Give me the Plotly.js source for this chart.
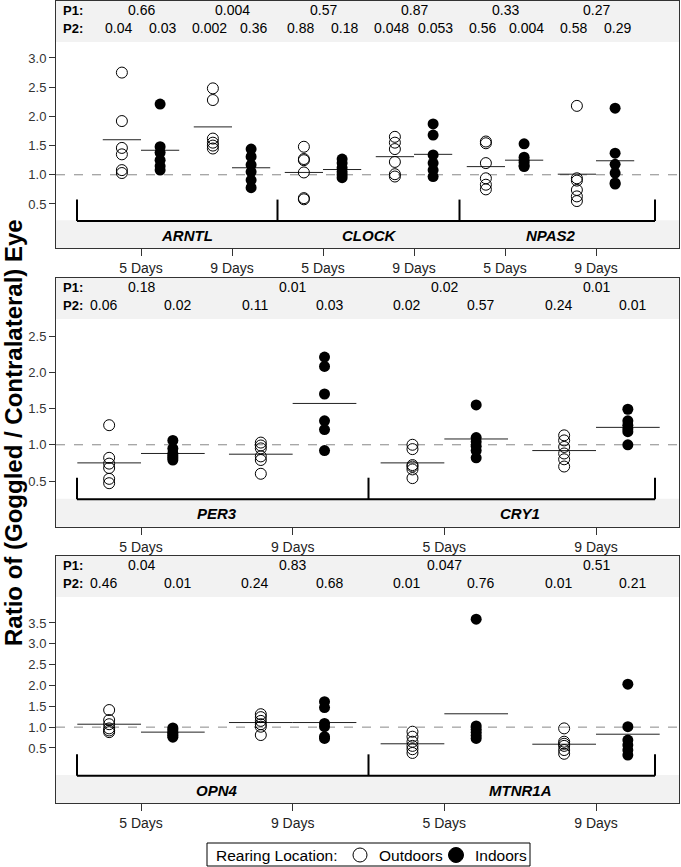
<!DOCTYPE html>
<html>
<head>
<meta charset="utf-8">
<script src="https://cdn.plot.ly/plotly-3.0.1.min.js"></script>
<style>html,body{margin:0;padding:0;background:#fff;}#chart{width:681px;height:867px;}</style>
</head>
<body>
<div id="chart"></div>
<script>
// ---------------- DATA ----------------
const dayLabels = ['5 Days', '9 Days'];
const seriesNames = ['Outdoors', 'Indoors'];
const yTitle = 'Ratio of (Goggled / Contralateral) Eye';
const legendTitle = 'Rearing Location:';

const panel1Genes = ['ARNTL', 'CLOCK', 'NPAS2'];
const panel2Genes = ['PER3', 'CRY1'];
const panel3Genes = ['OPN4', 'MTNR1A'];

const yTicks1 = [0.5, 1.0, 1.5, 2.0, 2.5, 3.0];
const yTicks2 = [0.5, 1.0, 1.5, 2.0, 2.5];
const yTicks3 = [0.5, 1.0, 1.5, 2.0, 2.5, 3.0, 3.5];

// values per gene: [5 days], [9 days]
const ARNTL_out = [[2.75, 1.92, 1.46, 1.35, 1.08, 1.03], [2.48, 2.28, 1.62, 1.55, 1.50, 1.45]];
const ARNTL_in = [[2.21, 1.48, 1.38, 1.25, 1.15, 1.08], [1.44, 1.31, 1.17, 1.05, 0.91, 0.78]];
const ARNTL_outMean = [1.60, 1.82];
const ARNTL_inMean = [1.42, 1.12];
const ARNTL_P1 = ['0.66', '0.004'];
const ARNTL_P2 = ['0.04', '0.03', '0.002', '0.36'];

const CLOCK_out = [[1.48, 1.27, 1.25, 1.04, 0.60, 0.58], [1.65, 1.55, 1.44, 1.22, 1.01, 0.97]];
const CLOCK_in = [[1.27, 1.20, 1.12, 1.05, 1.00, 0.95], [1.87, 1.68, 1.34, 1.20, 1.08, 0.97]];
const CLOCK_outMean = [1.04, 1.31];
const CLOCK_inMean = [1.09, 1.35];
const CLOCK_P1 = ['0.57', '0.87'];
const CLOCK_P2 = ['0.88', '0.18', '0.048', '0.053'];

const NPAS2_out = [[1.57, 1.54, 1.20, 0.94, 0.83, 0.75], [2.18, 0.94, 0.90, 0.74, 0.63, 0.55]];
const NPAS2_in = [[1.53, 1.30, 1.25, 1.21, 1.16, 1.14], [2.14, 1.37, 1.18, 1.03, 0.86, 0.84]];
const NPAS2_outMean = [1.14, 1.01];
const NPAS2_inMean = [1.25, 1.24];
const NPAS2_P1 = ['0.33', '0.27'];
const NPAS2_P2 = ['0.56', '0.004', '0.58', '0.29'];

const PER3_out = [[1.27, 0.82, 0.74, 0.68, 0.53, 0.47], [1.03, 0.99, 0.95, 0.84, 0.79, 0.60]];
const PER3_in = [[1.06, 0.95, 0.88, 0.85, 0.82, 0.79], [2.21, 2.08, 1.70, 1.33, 1.21, 0.92]];
const PER3_outMean = [0.75, 0.87];
const PER3_inMean = [0.88, 1.57];
const PER3_P1 = ['0.18', '0.01'];
const PER3_P2 = ['0.06', '0.02', '0.11', '0.03'];

const CRY1_out = [[1.00, 0.94, 0.72, 0.70, 0.66, 0.54], [1.13, 1.06, 0.97, 0.88, 0.80, 0.70]];
const CRY1_in = [[1.55, 1.10, 1.04, 0.98, 0.92, 0.82], [1.49, 1.33, 1.27, 1.22, 1.18, 1.00]];
const CRY1_outMean = [0.75, 0.92];
const CRY1_inMean = [1.08, 1.24];
const CRY1_P1 = ['0.02', '0.01'];
const CRY1_P2 = ['0.02', '0.57', '0.24', '0.01'];

const OPN4_out = [[1.41, 1.17, 1.07, 0.97, 0.92, 0.88], [1.31, 1.24, 1.15, 1.07, 1.01, 0.81]];
const OPN4_in = [[0.98, 0.94, 0.88, 0.84, 0.80, 0.76], [1.61, 1.47, 1.09, 1.01, 0.77, 0.73]];
const OPN4_outMean = [1.07, 1.11];
const OPN4_inMean = [0.88, 1.11];
const OPN4_P1 = ['0.04', '0.83'];
const OPN4_P2 = ['0.46', '0.01', '0.24', '0.68'];

const MTNR1A_out = [[0.89, 0.77, 0.65, 0.55, 0.47, 0.38], [0.97, 0.65, 0.60, 0.55, 0.45, 0.36]];
const MTNR1A_in = [[3.59, 1.03, 0.95, 0.88, 0.80, 0.73], [2.03, 1.01, 0.69, 0.57, 0.45, 0.33]];
const MTNR1A_outMean = [0.60, 0.59];
const MTNR1A_inMean = [1.32, 0.83];
const MTNR1A_P1 = ['0.047', '0.51'];
const MTNR1A_P2 = ['0.01', '0.76', '0.01', '0.21'];

// ---------------- BUILD ----------------
const FONT = 'Liberation Sans, Arial, Helvetica, sans-serif';
const W = 681, H = 867;
const plotL = 56, plotR = 679;
const firstCatPx = 141, lastCatPx = 596;
const OFF = 0.21;

const traces = [];
const shapes = [];
const annotations = [];
const layout = {
  width: W, height: H,
  margin: {l: plotL, r: W - plotR, t: 0, b: 0},
  paper_bgcolor: '#fff', plot_bgcolor: '#fff',
  font: {family: FONT, color: '#000', size: 13},
  showlegend: false,
  shapes: shapes, annotations: annotations
};

const px2px = x => (x - plotL) / (plotR - plotL);   // pixel x -> paper x
const py2py = y => (H - y) / H;                     // pixel y -> paper y
function pxToDomainY(top, bottom) { return [1 - bottom / H, 1 - top / H]; }

function addPanel(k, genes, outs, ins, outMeans, inMeans, p1s, p2s, yTicks, yRange, topPx, bottomPx) {
  const sfx = k === 1 ? '' : String(k);
  const xa = 'x' + sfx, ya = 'y' + sfx;
  const n = genes.length * 2;
  const s = (lastCatPx - firstCatPx) / (n - 1);
  const xRange = [-(firstCatPx - plotL) / s, (n - 1) + (plotR - lastCatPx) / s];
  const hPx = bottomPx - topPx;

  const xO = [], yO = [], xI = [], yI = [], lx = [], ly = [];
  const tickvals = [], ticktext = [];
  genes.forEach((g, gi) => {
    for (let d = 0; d < 2; d++) {
      const c = gi * 2 + d;
      tickvals.push(c); ticktext.push(dayLabels[d]);
      outs[gi][d].forEach(v => { xO.push(c - OFF); yO.push(v); });
      ins[gi][d].forEach(v => { xI.push(c + OFF); yI.push(v); });
      lx.push(c - 2 * OFF, c, null, c, c + 2 * OFF, null);
      ly.push(outMeans[gi][d], outMeans[gi][d], null, inMeans[gi][d], inMeans[gi][d], null);
      annotations.push({xref: xa, yref: ya + ' domain', x: c, y: 1 - 9 / hPx, text: p1s[gi][d],
        showarrow: false, xanchor: 'center', yanchor: 'middle', font: {size: 14, color: '#000'}});
      annotations.push({xref: xa, yref: ya + ' domain', x: c - 0.25, y: 1 - 27 / hPx, text: p2s[gi][d * 2],
        showarrow: false, xanchor: 'center', yanchor: 'middle', font: {size: 14, color: '#000'}});
      annotations.push({xref: xa, yref: ya + ' domain', x: c + 0.24, y: 1 - 27 / hPx, text: p2s[gi][d * 2 + 1],
        showarrow: false, xanchor: 'center', yanchor: 'middle', font: {size: 14, color: '#000'}});
    }
    annotations.push({xref: xa, yref: ya + ' domain', x: gi * 2 + 0.5, y: 13 / hPx, text: '<b><i>' + g + '</i></b>',
      showarrow: false, xanchor: 'center', yanchor: 'middle', font: {size: 15, color: '#000'}});
    if (gi > 0) {
      shapes.push({type: 'line', xref: xa, yref: ya + ' domain', x0: gi * 2 - 0.5, x1: gi * 2 - 0.5,
        y0: 0.11, y1: 0.197, line: {color: '#000', width: 2}});
    }
  });

  traces.push({type: 'scatter', mode: 'lines', x: lx, y: ly, xaxis: xa, yaxis: ya,
    line: {color: '#222', width: 1}, showlegend: false, hoverinfo: 'skip'});
  traces.push({type: 'scatter', mode: 'markers', name: seriesNames[0], x: xO, y: yO, xaxis: xa, yaxis: ya,
    marker: {symbol: 'circle-open', size: 11, color: '#000', line: {width: 1, color: '#000'}}});
  traces.push({type: 'scatter', mode: 'markers', name: seriesNames[1], x: xI, y: yI, xaxis: xa, yaxis: ya,
    marker: {symbol: 'circle', size: 11, color: '#000', line: {width: 0}}});

  layout['xaxis' + sfx] = {
    domain: [0, 1], anchor: ya, range: xRange, tickmode: 'array', tickvals: tickvals, ticktext: ticktext,
    ticks: 'outside', ticklen: 7, tickwidth: 1, tickcolor: '#333', showline: true, mirror: true,
    linecolor: '#333', linewidth: 1, showgrid: false, zeroline: false,
    tickfont: {family: FONT, size: 14, color: '#222'}, fixedrange: true
  };
  layout['yaxis' + sfx] = {
    domain: pxToDomainY(topPx, bottomPx), anchor: xa, range: yRange, tickmode: 'array', tickvals: yTicks,
    ticktext: yTicks.map(v => v.toFixed(1)), ticks: 'outside', ticklen: 6, tickwidth: 1, tickcolor: '#333',
    showline: true, mirror: true, linecolor: '#333', linewidth: 1, showgrid: false, zeroline: false,
    tickfont: {family: FONT, size: 13, color: '#333'}, fixedrange: true
  };

  shapes.push({type: 'rect', xref: xa + ' domain', yref: ya + ' domain', x0: 0, x1: 1, y0: 1 - 41 / hPx, y1: 1,
    fillcolor: '#f2f2f2', line: {width: 0}, layer: 'below'});
  shapes.push({type: 'rect', xref: xa + ' domain', yref: ya + ' domain', x0: 0, x1: 1, y0: 0, y1: 28 / hPx,
    fillcolor: '#f2f2f2', line: {width: 0}, layer: 'below'});
  shapes.push({type: 'line', xref: xa + ' domain', yref: ya, x0: 0, x1: 1, y0: 1, y1: 1,
    line: {color: '#888', width: 1, dash: 'dash'}, layer: 'below'});
  const bl = px2px(77), br = px2px(655);
  shapes.push({type: 'line', xref: xa + ' domain', yref: ya + ' domain', x0: bl, x1: br, y0: 0.11, y1: 0.11,
    line: {color: '#000', width: 2}});
  shapes.push({type: 'line', xref: xa + ' domain', yref: ya + ' domain', x0: bl, x1: bl, y0: 0.11, y1: 0.197,
    line: {color: '#000', width: 2}});
  shapes.push({type: 'line', xref: xa + ' domain', yref: ya + ' domain', x0: br, x1: br, y0: 0.11, y1: 0.197,
    line: {color: '#000', width: 2}});
  annotations.push({xref: xa + ' domain', yref: ya + ' domain', x: 0.008, y: 1 - 9 / hPx, text: '<b>P1:</b>',
    showarrow: false, xanchor: 'left', yanchor: 'middle', font: {size: 13, color: '#000'}});
  annotations.push({xref: xa + ' domain', yref: ya + ' domain', x: 0.008, y: 1 - 27 / hPx, text: '<b>P2:</b>',
    showarrow: false, xanchor: 'left', yanchor: 'middle', font: {size: 13, color: '#000'}});
}

addPanel(1, panel1Genes,
  [ARNTL_out, CLOCK_out, NPAS2_out], [ARNTL_in, CLOCK_in, NPAS2_in],
  [ARNTL_outMean, CLOCK_outMean, NPAS2_outMean], [ARNTL_inMean, CLOCK_inMean, NPAS2_inMean],
  [ARNTL_P1, CLOCK_P1, NPAS2_P1], [ARNTL_P2, CLOCK_P2, NPAS2_P2],
  yTicks1, [-0.259, 3.976], 1, 248.3);
addPanel(2, panel2Genes,
  [PER3_out, CRY1_out], [PER3_in, CRY1_in],
  [PER3_outMean, CRY1_outMean], [PER3_inMean, CRY1_inMean],
  [PER3_P1, CRY1_P1], [PER3_P2, CRY1_P2],
  yTicks2, [-0.130, 3.30], 278, 526.7);
addPanel(3, panel3Genes,
  [OPN4_out, MTNR1A_out], [OPN4_in, MTNR1A_in],
  [OPN4_outMean, MTNR1A_outMean], [OPN4_inMean, MTNR1A_inMean],
  [OPN4_P1, MTNR1A_P1], [OPN4_P2, MTNR1A_P2],
  yTicks3, [-0.821, 5.107], 556, 803);

// y-axis title shared by all panels
annotations.push({xref: 'paper', yref: 'paper', x: px2px(13), y: py2py(433),
  text: '<b>' + yTitle + '</b>', textangle: -90, showarrow: false, xanchor: 'center', yanchor: 'middle',
  font: {family: FONT, size: 24, color: '#000'}});

// legend box (drawn manually to match the compact framed key)
shapes.push({type: 'rect', xref: 'paper', yref: 'paper', x0: px2px(207), x1: px2px(530), y0: py2py(866), y1: py2py(843),
  line: {color: '#000', width: 1}, fillcolor: '#fff'});
annotations.push({xref: 'paper', yref: 'paper', x: px2px(214), y: py2py(855), text: legendTitle,
  showarrow: false, xanchor: 'left', yanchor: 'middle', font: {size: 15.5, color: '#000'}});
shapes.push({type: 'circle', xref: 'paper', yref: 'paper', xsizemode: 'pixel', ysizemode: 'pixel',
  xanchor: px2px(360), yanchor: py2py(855), x0: -7, x1: 7, y0: -7, y1: 7,
  line: {color: '#000', width: 1}, fillcolor: 'rgba(0,0,0,0)'});
annotations.push({xref: 'paper', yref: 'paper', x: px2px(377), y: py2py(855), text: seriesNames[0],
  showarrow: false, xanchor: 'left', yanchor: 'middle', font: {size: 15.5, color: '#000'}});
shapes.push({type: 'circle', xref: 'paper', yref: 'paper', xsizemode: 'pixel', ysizemode: 'pixel',
  xanchor: px2px(456), yanchor: py2py(855), x0: -7.5, x1: 7.5, y0: -7.5, y1: 7.5,
  line: {color: '#000', width: 1}, fillcolor: '#000'});
annotations.push({xref: 'paper', yref: 'paper', x: px2px(473), y: py2py(855), text: seriesNames[1],
  showarrow: false, xanchor: 'left', yanchor: 'middle', font: {size: 15.5, color: '#000'}});

Plotly.newPlot('chart', traces, layout, {displayModeBar: false, staticPlot: true});
</script>
</body>
</html>
